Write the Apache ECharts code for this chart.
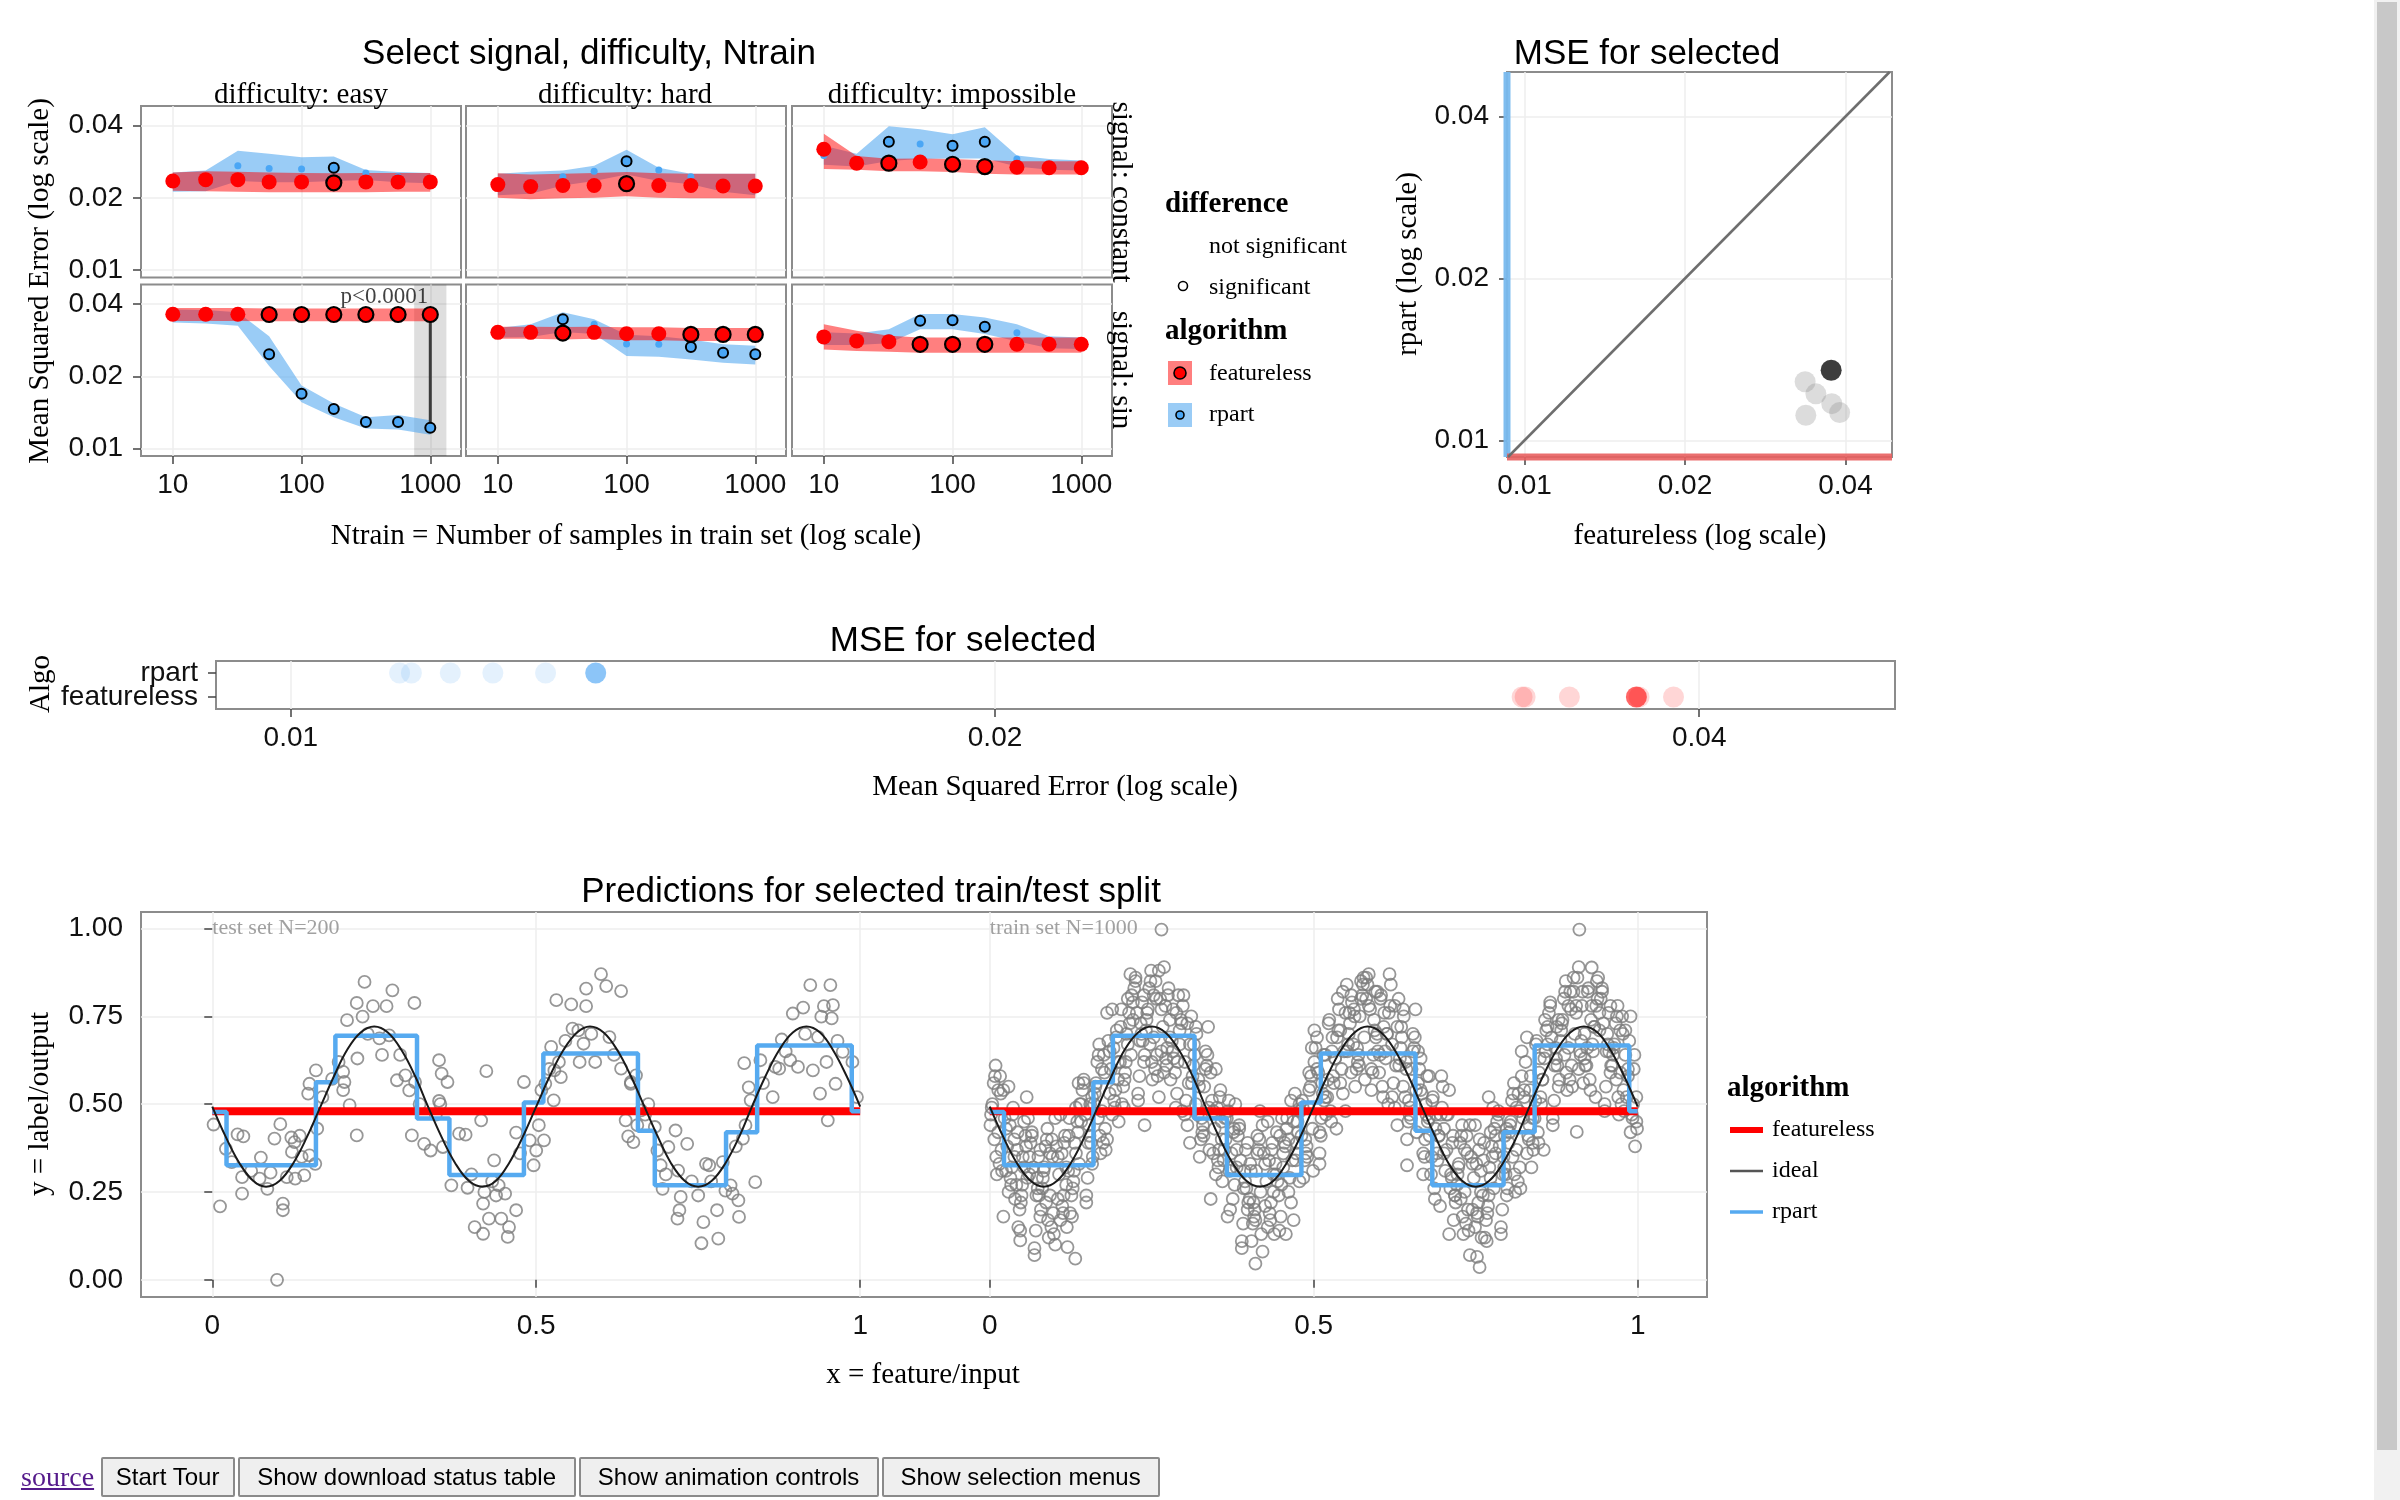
<!DOCTYPE html>
<html>
<head>
<meta charset="utf-8">
<title>MSE dashboard</title>
<script src="https://cdn.jsdelivr.net/npm/echarts@6/dist/echarts.min.js"></script>
<style>
  html, body { margin:0; padding:0; background:#fff; width:2400px; height:1500px; overflow:hidden; }
  #chart { position:absolute; left:0; top:0; width:2400px; height:1500px; }
  #controls { position:absolute; left:21px; top:1457px; height:40px; display:flex; align-items:stretch; }
  #controls a { font: 28px 'Liberation Serif', serif; color:#551a8b; text-decoration:underline; align-self:center; margin-right:5px; }
  #controls button { font: 24px 'Liberation Sans', Arial, sans-serif; color:#000; background:#efefef; border:2px solid #8a8a8a; border-radius:2px; height:40px; padding:0; margin:0 1.5px; }
  #scroll { position:absolute; left:2374px; top:0; width:26px; height:1500px; background:#f1f1f1; }
  #thumb { position:absolute; left:3px; top:2px; width:20px; height:1448px; background:#c8c8c8; }
</style>
</head>
<body>
<div id="chart"></div>
<div id="controls"><a href="#">source</a><button style="width:134px">Start Tour</button><button style="width:338px">Show download status table</button><button style="width:300px">Show animation controls</button><button style="width:278px">Show selection menus</button></div>
<div id="scroll"><div id="thumb"></div></div>
<script>
// ================= DATA =================
const NTRAIN = [10, 18, 32, 56, 100, 178, 316, 562, 1000];
const NTRAIN_TICKS = [10, 100, 1000];
const MSE_TICKS = [0.01, 0.02, 0.04];
const SIGNALS = ['constant', 'sin'];
const DIFFICULTIES = ['easy', 'hard', 'impossible'];

// signal: constant, difficulty: easy
const constEasyFeatMean  = [0.0235,0.0238,0.0238,0.0233,0.0233,0.0231,0.0233,0.0233,0.0233];
const constEasyFeatLo    = [0.0214,0.0213,0.0212,0.0211,0.0211,0.0211,0.0211,0.0212,0.0212];
const constEasyFeatHi    = [0.0255,0.0258,0.0257,0.0255,0.0254,0.0253,0.0254,0.0254,0.0254];
const constEasyRpartMean = [0.0236,0.0242,0.0272,0.0265,0.0264,0.0267,0.0254,0.0245,0.0240];
const constEasyRpartLo   = [0.0212,0.0213,0.0235,0.0232,0.0232,0.0235,0.0237,0.0232,0.0230];
const constEasyRpartHi   = [0.0255,0.0260,0.0314,0.0305,0.0295,0.0297,0.0261,0.0256,0.0254];
const constEasySig       = [0,0,0,0,0,1,0,0,0];
// signal: constant, difficulty: hard
const constHardFeatMean  = [0.0227,0.0223,0.0225,0.0225,0.0229,0.0225,0.0225,0.0224,0.0224];
const constHardFeatLo    = [0.0200,0.0197,0.0199,0.0200,0.0203,0.0200,0.0199,0.0199,0.0199];
const constHardFeatHi    = [0.0253,0.0250,0.0252,0.0254,0.0256,0.0253,0.0252,0.0252,0.0252];
const constHardRpartMean = [0.0228,0.0232,0.0245,0.0258,0.0284,0.0261,0.0245,0.0232,0.0228];
const constHardRpartLo   = [0.0205,0.0208,0.0225,0.0235,0.0250,0.0235,0.0228,0.0212,0.0205];
const constHardRpartHi   = [0.0252,0.0257,0.0260,0.0272,0.0317,0.0267,0.0252,0.0252,0.0252];
const constHardSig       = [0,0,0,0,1,0,0,0,0];
// signal: constant, difficulty: impossible
const constImpFeatMean   = [0.0319,0.0279,0.0279,0.0282,0.0276,0.0270,0.0268,0.0267,0.0267];
const constImpFeatLo     = [0.0264,0.0262,0.0258,0.0258,0.0256,0.0252,0.0250,0.0250,0.0250];
const constImpFeatHi     = [0.0370,0.0299,0.0291,0.0292,0.0290,0.0287,0.0284,0.0284,0.0284];
const constImpRpartMean  = [0.0300,0.0283,0.0343,0.0335,0.0330,0.0343,0.0290,0.0275,0.0272];
const constImpRpartLo    = [0.0275,0.0270,0.0285,0.0290,0.0292,0.0292,0.0270,0.0262,0.0260];
const constImpRpartHi    = [0.0330,0.0305,0.0398,0.0386,0.0368,0.0394,0.0300,0.0290,0.0286];
const constImpSig        = [0,0,1,0,1,1,0,0,0];
// signal: sin, difficulty: easy
const sinEasyFeatMean    = [0.0363,0.0363,0.0363,0.0362,0.0362,0.0362,0.0362,0.0362,0.0362];
const sinEasyFeatLo      = [0.0340,0.0340,0.0340,0.0339,0.0339,0.0339,0.0339,0.0339,0.0339];
const sinEasyFeatHi      = [0.0385,0.0385,0.0385,0.0384,0.0384,0.0384,0.0384,0.0384,0.0384];
const sinEasyRpartMean   = [0.0362,0.0360,0.0352,0.0247,0.0169,0.0146,0.0129,0.0129,0.0122];
const sinEasyRpartLo     = [0.0335,0.0332,0.0325,0.0221,0.0156,0.0135,0.0121,0.0120,0.0114];
const sinEasyRpartHi     = [0.0380,0.0378,0.0370,0.0294,0.0183,0.0154,0.0135,0.0138,0.0131];
const sinEasySig         = [0,0,0,1,1,1,1,1,1];
// signal: sin, difficulty: hard
const sinHardFeatMean    = [0.0305,0.0305,0.0303,0.0305,0.0301,0.0301,0.0299,0.0299,0.0299];
const sinHardFeatLo      = [0.0287,0.0287,0.0285,0.0287,0.0283,0.0283,0.0281,0.0281,0.0281];
const sinHardFeatHi      = [0.0322,0.0322,0.0321,0.0322,0.0320,0.0320,0.0318,0.0318,0.0318];
const sinHardRpartMean   = [0.0305,0.0310,0.0346,0.0330,0.0273,0.0272,0.0265,0.0251,0.0247];
const sinHardRpartLo     = [0.0290,0.0292,0.0306,0.0300,0.0243,0.0241,0.0235,0.0228,0.0224];
const sinHardRpartHi     = [0.0318,0.0330,0.0370,0.0346,0.0298,0.0294,0.0285,0.0272,0.0268];
const sinHardSig         = [0,0,1,0,0,0,1,1,1];
// signal: sin, difficulty: impossible
const sinImpFeatMean     = [0.0292,0.0281,0.0279,0.0272,0.0272,0.0272,0.0272,0.0272,0.0272];
const sinImpFeatLo       = [0.0259,0.0255,0.0253,0.0251,0.0251,0.0251,0.0251,0.0251,0.0251];
const sinImpFeatHi       = [0.0330,0.0310,0.0295,0.0290,0.0290,0.0290,0.0290,0.0290,0.0290];
const sinImpRpartMean    = [0.0292,0.0285,0.0290,0.0341,0.0343,0.0322,0.0304,0.0280,0.0275];
const sinImpRpartLo      = [0.0270,0.0270,0.0275,0.0314,0.0314,0.0300,0.0280,0.0262,0.0260];
const sinImpRpartHi      = [0.0305,0.0302,0.0314,0.0364,0.0364,0.0352,0.0330,0.0294,0.0290];
const sinImpSig          = [0,0,0,1,1,1,0,0,0];

const SELECTED_SIGNAL = 'sin', SELECTED_DIFFICULTY = 'easy', SELECTED_NTRAIN = 1000;
const SELECTED_PVALUE = 'p<0.0001';

// MSE per test fold for the selected (signal, difficulty, Ntrain)
const foldFeaturelessMSE = [0.0376, 0.0336, 0.0352, 0.0377, 0.0390, 0.0337];
const foldRpartMSE       = [0.0135, 0.01285, 0.0122, 0.0117, 0.01126, 0.01113];
const SELECTED_FOLD = 0;

// predictions for the selected split
const featurelessPrediction = 0.48;
const rpartStepX = [0, 0.022, 0.160, 0.190, 0.316, 0.366, 0.481, 0.511, 0.657, 0.683, 0.793, 0.841, 0.987, 1.0];
const rpartStepY = [0.478, 0.326, 0.562, 0.695, 0.459, 0.298, 0.505, 0.644, 0.424, 0.269, 0.420, 0.667, 0.48, 0.48];
const idealX = [0,.021,.042,.063,.083,.104,.125,.146,.167,.188,.208,.229,.25,.271,.292,.313,.333,.354,.375,.396,.417,.438,.458,.479,.5,.521,.542,.563,.583,.604,.625,.646,.667,.688,.708,.729,.75,.771,.792,.813,.833,.854,.875,.896,.917,.938,.958,.979,1];
const idealY = [.493,.406,.332,.282,.265,.282,.332,.406,.493,.580,.654,.704,.721,.704,.654,.580,
                .493,.406,.332,.282,.265,.282,.332,.406,.493,.580,.654,.704,.721,.704,.654,.580,
                .493,.406,.332,.282,.265,.282,.332,.406,.493,.580,.654,.704,.721,.704,.654,.580,.493];
const PRED_X_TICKS = [0, 0.5, 1, 1.2, 1.7, 2.2];
const PRED_X_LABELS = ['0', '0.5', '1', '0', '0.5', '1'];
const PRED_Y_TICKS = [0, 0.25, 0.5, 0.75, 1];
const TRAIN_OFFSET = 1.2;

// test set points (x, y pairs)
const testPts = [
.002,.442,.012,.209,.021,.373,.039,.414,.048,.408,.046,.245,.046,.292,.075,.348,.073,.288,.085,.259,.096,.402,.105,.443,.100,.000,.109,.217,.109,.198,.115,.292,.122,.405,.127,.392,.123,.364,.128,.288,
.138,.350,.142,.297,.148,.530,.150,.558,.160,.596,.162,.430,.159,.330,.150,.354,.185,.572,.202,.592,.204,.563,.202,.540,.212,.497,.208,.739,.223,.788,.235,.848,.232,.749,.223,.411,.224,.630,.248,.779,
.258,.687,.269,.779,.278,.824,.273,.696,.312,.788,.285,.568,.298,.582,.304,.539,.308,.411,.313,.563,.327,.387,.337,.368,.350,.625,.354,.587,.363,.563,.350,.509,.352,.500,.356,.378,.369,.269,.381,.416,
.391,.413,.394,.262,.405,.150,.415,.454,.418,.131,.423,.594,.418,.217,.420,.250,.427,.174,.435,.340,.438,.240,.442,.269,.446,.174,.452,.245,.456,.122,.458,.150,.469,.198,.469,.419,.481,.563,.490,.397,
.496,.326,.500,.368,.504,.440,.508,.540,.512,.397,.514,.558,.527,.511,.528,.596,.531,.796,.523,.663,.535,.620,.538,.577,.554,.784,.577,.779,.577,.829,.556,.715,.565,.710,.567,.620,.573,.672,.591,.620,
.600,.870,.608,.836,.631,.822,.613,.691,.631,.601,.638,.454,.642,.408,.650,.392,.646,.563,.654,.582,.646,.558,.662,.482,.673,.500,.656,.440,.683,.435,.687,.368,.692,.326,.695,.259,.704,.378,.715,.425,
.719,.311,.723,.236,.721,.198,.718,.174,.733,.387,.750,.240,.755,.104,.758,.164,.762,.330,.767,.326,.779,.198,.781,.117,.788,.335,.792,.254,.800,.269,.803,.245,.812,.226,.813,.179,.819,.402,.823,.440,
.821,.617,.828,.548,.831,.511,.838,.278,.846,.625,.865,.520,.869,.606,.875,.601,.879,.684,.892,.625,.896,.758,.912,.775,.904,.606,.923,.839,.927,.596,.935,.691,.938,.530,.940,.749,.944,.779,.948,.620,
.950,.454,.954,.839,.958,.782,.956,.744,.962,.558,.973,.649,.988,.620,.030,.335,.060,.310,.090,.305,.135,.410,.170,.520,.195,.620,.240,.700,.262,.640,.290,.640,.320,.500,.345,.470,.400,.300,.432,.280,
.475,.360,.520,.600,.545,.680,.585,.700,.620,.640,.668,.470,.700,.300,.740,.280,.770,.280,.808,.380,.850,.560,.885,.650,.915,.700,.965,.680,.995,.520
];

// train set points (x, y pairs)
const trainPts = [
.002,.47,.018,.37,.006,.56,.013,.42,.009,.61,.015,.33,.004,.50,.011,.30,.017,.53,.001,.44,.008,.58,
.034,.32,.023,.46,.039,.23,.027,.38,.031,.44,.021,.18,.036,.49,.025,.31,.029,.55,.033,.27,.038,.40,
.042,.37,.058,.29,.046,.20,.053,.45,.049,.24,.055,.41,.044,.15,.051,.35,.057,.52,.041,.27,.048,.22,
.074,.26,.063,.39,.079,.20,.067,.32,.071,.14,.061,.35,.076,.24,.065,.42,.069,.09,.073,.29,.078,.37,
.082,.29,.098,.19,.086,.38,.093,.24,.089,.43,.095,.15,.084,.32,.091,.12,.097,.35,.081,.26,.088,.40,
.114,.24,.103,.38,.119,.15,.107,.30,.111,.36,.101,.10,.116,.41,.105,.23,.109,.47,.113,.19,.118,.32,
.122,.41,.138,.33,.126,.24,.133,.49,.129,.28,.135,.45,.124,.19,.131,.39,.137,.56,.121,.31,.128,.26,
.154,.41,.143,.54,.159,.35,.147,.47,.151,.29,.141,.50,.156,.39,.145,.57,.149,.24,.153,.44,.158,.52,
.162,.53,.178,.43,.166,.62,.173,.48,.169,.67,.175,.39,.164,.56,.171,.36,.177,.59,.161,.50,.168,.64,
.194,.54,.183,.68,.199,.45,.187,.60,.191,.66,.181,.40,.196,.71,.185,.53,.189,.77,.193,.49,.198,.62,
.202,.72,.218,.64,.206,.55,.213,.80,.209,.59,.215,.76,.204,.50,.211,.70,.217,.87,.201,.62,.208,.57,
.234,.70,.223,.83,.239,.64,.227,.76,.231,.58,.221,.79,.236,.68,.225,.86,.229,.53,.233,.73,.238,.81,
.242,.74,.258,.64,.246,.83,.253,.69,.249,.88,.255,.60,.244,.77,.251,.57,.257,.80,.241,.71,.248,.85,
.274,.66,.263,.80,.279,.57,.267,.72,.271,.78,.261,.52,.276,.83,.265,.65,.269,.89,.273,.61,.278,.74,
.282,.65,.298,.78,.286,.59,.293,.71,.289,.53,.295,.74,.284,.63,.291,.81,.297,.48,.281,.68,.288,.76,
.314,.61,.303,.51,.319,.70,.307,.56,.311,.75,.301,.47,.316,.64,.305,.44,.309,.67,.313,.58,.318,.72,
.322,.57,.338,.49,.326,.40,.333,.65,.329,.44,.335,.61,.324,.35,.331,.55,.337,.72,.321,.47,.328,.42,
.354,.37,.343,.51,.359,.28,.347,.43,.351,.49,.341,.23,.356,.54,.345,.36,.349,.60,.353,.32,.358,.45,
.362,.37,.378,.27,.366,.46,.373,.32,.369,.51,.375,.23,.364,.40,.371,.20,.377,.43,.361,.34,.368,.48,
.394,.28,.383,.41,.399,.22,.387,.34,.391,.16,.381,.37,.396,.26,.385,.44,.389,.11,.393,.31,.398,.39,
.402,.33,.418,.25,.406,.16,.413,.41,.409,.20,.415,.37,.404,.11,.411,.31,.417,.48,.401,.23,.408,.18,
.434,.22,.423,.36,.439,.13,.427,.28,.431,.34,.421,.08,.436,.39,.425,.21,.429,.45,.433,.17,.438,.30,
.442,.30,.458,.43,.446,.24,.453,.36,.449,.18,.455,.39,.444,.28,.451,.46,.457,.13,.441,.33,.448,.41,
.474,.39,.463,.29,.479,.48,.467,.34,.471,.53,.461,.25,.476,.42,.465,.22,.469,.45,.473,.36,.478,.50,
.482,.51,.498,.43,.486,.34,.493,.59,.489,.38,.495,.55,.484,.29,.491,.49,.497,.66,.481,.41,.488,.36,
.514,.53,.503,.66,.519,.47,.507,.59,.511,.41,.501,.62,.516,.51,.505,.69,.509,.36,.513,.56,.518,.64,
.522,.57,.538,.71,.526,.48,.533,.63,.529,.69,.535,.43,.524,.74,.531,.56,.537,.80,.521,.52,.528,.65,
.554,.70,.543,.60,.559,.79,.547,.65,.551,.84,.541,.56,.556,.73,.545,.53,.549,.76,.553,.67,.558,.81,
.562,.77,.578,.69,.566,.60,.573,.85,.569,.64,.575,.81,.564,.55,.571,.75,.577,.86,.561,.67,.568,.62,
.594,.71,.583,.84,.599,.65,.587,.77,.591,.59,.581,.80,.596,.69,.585,.87,.589,.54,.593,.74,.598,.82,
.602,.64,.618,.78,.606,.55,.613,.70,.609,.76,.615,.50,.604,.81,.611,.63,.617,.87,.601,.59,.608,.72,
.634,.66,.623,.56,.639,.75,.627,.61,.631,.80,.621,.52,.636,.69,.625,.49,.629,.72,.633,.63,.638,.77,
.642,.62,.658,.54,.646,.45,.653,.70,.649,.49,.655,.66,.644,.40,.651,.60,.657,.77,.641,.52,.648,.47,
.674,.47,.663,.60,.679,.41,.667,.53,.671,.35,.661,.56,.676,.45,.665,.63,.669,.30,.673,.50,.678,.58,
.682,.35,.698,.49,.686,.26,.693,.41,.689,.47,.695,.21,.684,.52,.691,.34,.697,.58,.681,.30,.688,.43,
.714,.39,.703,.31,.719,.22,.707,.47,.711,.26,.701,.43,.716,.17,.705,.37,.709,.54,.713,.29,.718,.24,
.722,.30,.738,.20,.726,.39,.733,.25,.729,.44,.735,.16,.724,.33,.731,.13,.737,.36,.721,.27,.728,.41,
.754,.22,.743,.35,.759,.12,.747,.29,.751,.33,.741,.07,.756,.40,.745,.20,.749,.44,.753,.18,.758,.31,
.762,.34,.778,.26,.766,.17,.773,.42,.769,.21,.775,.38,.764,.12,.771,.32,.777,.49,.761,.24,.768,.19,
.794,.32,.783,.45,.799,.26,.787,.38,.791,.20,.781,.41,.796,.30,.785,.48,.789,.15,.793,.35,.798,.43,
.802,.42,.818,.32,.806,.51,.813,.37,.809,.56,.815,.28,.804,.45,.811,.25,.817,.48,.801,.39,.808,.53,
.834,.54,.823,.46,.839,.37,.827,.62,.831,.41,.821,.58,.836,.32,.825,.52,.829,.69,.833,.44,.838,.39,
.842,.51,.858,.65,.846,.42,.853,.57,.849,.63,.855,.37,.844,.68,.851,.50,.857,.74,.841,.46,.848,.59,
.874,.63,.863,.76,.879,.57,.867,.69,.871,.51,.861,.72,.876,.61,.865,.79,.869,.46,.873,.66,.878,.74,
.882,.71,.898,.61,.886,.80,.893,.66,.889,.85,.895,.57,.884,.74,.891,.54,.897,.77,.881,.68,.888,.82,
.914,.78,.903,.70,.919,.61,.907,.86,.911,.65,.901,.82,.916,.56,.905,.76,.909,.89,.913,.68,.918,.63,
.922,.66,.938,.80,.926,.57,.933,.72,.929,.78,.935,.52,.924,.83,.931,.65,.937,.85,.921,.61,.928,.74,
.954,.67,.943,.80,.959,.61,.947,.73,.951,.55,.941,.76,.956,.65,.945,.83,.949,.50,.953,.70,.958,.78,
.962,.64,.978,.54,.966,.73,.973,.59,.969,.78,.975,.50,.964,.67,.971,.47,.977,.70,.961,.61,.968,.75,
.994,.60,.983,.52,.999,.43,.987,.68,.991,.47,.981,.64,.996,.38,.985,.58,.989,.75,.993,.50,.998,.45,
.265,.997,.910,.997,.929,.889,.047,.112,.132,.060,.120,.093,.410,.046,.756,.036,.752,.065,.906,.421,.770,.520,.239,.440,.509,.330,.644,.326,
.003,.49,.010,.35,.016,.58,.007,.40,.013,.54,.019,.31,.032,.29,.025,.43,.038,.35,.021,.54,.029,.25,.035,.47,
.043,.42,.050,.27,.056,.38,.047,.14,.053,.32,.059,.46,.072,.24,.065,.41,.078,.18,.061,.30,.069,.07,.075,.35,
.083,.31,.090,.17,.096,.40,.087,.22,.093,.36,.099,.13,.112,.21,.105,.35,.118,.27,.101,.46,.109,.17,.115,.39,
.123,.46,.130,.31,.136,.42,.127,.18,.133,.36,.139,.50,.152,.39,.145,.56,.158,.33,.141,.45,.149,.22,.155,.50,
.163,.55,.170,.41,.176,.64,.167,.46,.173,.60,.179,.37,.192,.51,.185,.65,.198,.57,.181,.76,.189,.47,.195,.69,
.203,.77,.210,.62,.216,.73,.207,.49,.213,.67,.219,.81,.232,.68,.225,.85,.238,.62,.221,.74,.229,.51,.235,.79,
.243,.76,.250,.62,.256,.85,.247,.67,.253,.81,.259,.58,.272,.63,.265,.77,.278,.69,.261,.88,.269,.59,.275,.81,
.283,.77,.290,.62,.296,.73,.287,.49,.293,.67,.299,.81,.312,.56,.305,.73,.318,.50,.301,.62,.309,.39,.315,.67,
.323,.55,.330,.41,.336,.64,.327,.46,.333,.60,.339,.37,.352,.34,.345,.48,.358,.40,.341,.59,.349,.30,.355,.52,
.363,.46,.370,.31,.376,.42,.367,.18,.373,.36,.379,.50,.392,.26,.385,.43,.398,.20,.381,.32,.389,.09,.395,.37,
.403,.31,.410,.17,.416,.40,.407,.22,.413,.36,.419,.13,.432,.19,.425,.33,.438,.25,.421,.44,.429,.15,.435,.37,
.443,.42,.450,.27,.456,.38,.447,.14,.453,.32,.459,.46,.472,.34,.465,.51,.478,.28,.461,.40,.469,.17,.475,.45,
.483,.49,.490,.35,.496,.58,.487,.40,.493,.54,.499,.31,.512,.46,.505,.60,.518,.52,.501,.71,.509,.42,.515,.64,
.523,.73,.530,.58,.536,.69,.527,.45,.533,.63,.539,.77,.552,.65,.545,.82,.558,.59,.541,.71,.549,.48,.555,.76,
.563,.75,.570,.61,.576,.84,.567,.66,.573,.80,.579,.57,.592,.64,.585,.78,.598,.70,.581,.86,.589,.60,.595,.82,
.603,.80,.610,.65,.616,.76,.607,.52,.613,.70,.619,.84,.632,.61,.625,.78,.638,.55,.621,.67,.629,.44,.635,.72,
.643,.60,.650,.46,.656,.69,.647,.51,.653,.65,.659,.42,.672,.40,.665,.54,.678,.46,.661,.65,.669,.36,.675,.58,
.683,.51,.690,.36,.696,.47,.687,.23,.693,.41,.699,.55,.712,.30,.705,.47,.718,.24,.701,.36,.709,.13,.715,.41,
.723,.32,.730,.18,.736,.41,.727,.23,.733,.37,.739,.14,.752,.19,.745,.33,.758,.25,.741,.44,.749,.15,.755,.37,
.763,.39,.770,.24,.776,.35,.767,.11,.773,.29,.779,.43,.792,.30,.785,.47,.798,.24,.781,.36,.789,.13,.795,.41,
.803,.44,.810,.30,.816,.53,.807,.35,.813,.49,.819,.26,.832,.40,.825,.54,.838,.46,.821,.65,.829,.36,.835,.58,
.843,.67,.850,.52,.856,.63,.847,.39,.853,.57,.859,.71,.872,.61,.865,.78,.878,.55,.861,.67,.869,.44,.875,.72,
.883,.73,.890,.59,.896,.82,.887,.64,.893,.78,.899,.55,.912,.64,.905,.78,.918,.70,.901,.86,.909,.60,.915,.82,
.923,.82,.930,.67,.936,.78,.927,.54,.933,.72,.939,.86,.952,.65,.945,.82,.958,.59,.941,.71,.949,.48,.955,.76,
.963,.66,.970,.52,.976,.75,.967,.57,.973,.71,.979,.48,.992,.46,.985,.60,.998,.52,.981,.71,.989,.42,.995,.64
];

// ================= STYLE / LAYOUT =================
const SANS = "'Liberation Sans', Arial, sans-serif";
const SERIF = "'Liberation Serif', 'Times New Roman', serif";
const RED = '#ff0000';
const BLUE = '#56aaf0';
const BLUE_PT = '#4aa6f5';
const RED_BAND = 'rgba(255,0,0,0.5)';
const BLUE_BAND = 'rgba(86,170,240,0.6)';
const BORDER = '#8c8c8c', SPLIT = '#eeeeee', TICK = '#444';

const FACET_LEFT = [141, 466, 792], FACET_TOP = [106, 284.5], FACET_W = 320, FACET_H = 171.5;
const FX_MIN = 5.66, FX_MAX = 1732, FY_MIN = 0.0093, FY_MAX = 0.0483;
const SC_X_MIN = 0.00927, SC_X_MAX = 0.0489, SC_Y_MIN = 0.00931, SC_Y_MAX = 0.0484;
const ST_X_MIN = 0.00929, ST_X_MAX = 0.0485;
const PR_X_MIN = -0.11, PR_X_MAX = 2.307, PR_Y_MIN = -0.049, PR_Y_MAX = 1.047;

const PANELS = [
  {signal:'constant', difficulty:'easy', fm:constEasyFeatMean, flo:constEasyFeatLo, fhi:constEasyFeatHi, rm:constEasyRpartMean, rlo:constEasyRpartLo, rhi:constEasyRpartHi, sig:constEasySig},
  {signal:'constant', difficulty:'hard', fm:constHardFeatMean, flo:constHardFeatLo, fhi:constHardFeatHi, rm:constHardRpartMean, rlo:constHardRpartLo, rhi:constHardRpartHi, sig:constHardSig},
  {signal:'constant', difficulty:'impossible', fm:constImpFeatMean, flo:constImpFeatLo, fhi:constImpFeatHi, rm:constImpRpartMean, rlo:constImpRpartLo, rhi:constImpRpartHi, sig:constImpSig},
  {signal:'sin', difficulty:'easy', fm:sinEasyFeatMean, flo:sinEasyFeatLo, fhi:sinEasyFeatHi, rm:sinEasyRpartMean, rlo:sinEasyRpartLo, rhi:sinEasyRpartHi, sig:sinEasySig},
  {signal:'sin', difficulty:'hard', fm:sinHardFeatMean, flo:sinHardFeatLo, fhi:sinHardFeatHi, rm:sinHardRpartMean, rlo:sinHardRpartLo, rhi:sinHardRpartHi, sig:sinHardSig},
  {signal:'sin', difficulty:'impossible', fm:sinImpFeatMean, flo:sinImpFeatLo, fhi:sinImpFeatHi, rm:sinImpRpartMean, rlo:sinImpRpartLo, rhi:sinImpRpartHi, sig:sinImpSig}
];

function tickOpt(show, custom) {
  return {show, customValues: custom, length: 8, inside: false, lineStyle: {color: TICK, width: 1.5}};
}
function labelOpt(show, custom, fmt, margin, size) {
  return {show, customValues: custom, formatter: fmt, margin, fontSize: size || 28, fontFamily: SANS, color: '#111'};
}
const splitOpt = {show: true, lineStyle: {color: SPLIT, width: 1.5}};
const fmtN = v => String(Math.round(v));
const fmtMSE = v => v.toFixed(2);

const grids = [], xAxes = [], yAxes = [], series = [];

function bandSeries(gi, lo, hi, color, z) {
  return {
    type: 'custom', xAxisIndex: gi, yAxisIndex: gi, z, silent: true, clip: true,
    data: [[NTRAIN[0], lo[0]]],
    renderItem: (params, api) => {
      const pts = [];
      for (let i = 0; i < NTRAIN.length; i++) pts.push(api.coord([NTRAIN[i], hi[i]]));
      for (let i = NTRAIN.length - 1; i >= 0; i--) pts.push(api.coord([NTRAIN[i], lo[i]]));
      return {type: 'polygon', shape: {points: pts}, style: {fill: color}};
    }
  };
}
function pointSeries(gi, means, sig, wantSig, size, color, z, border) {
  const data = [];
  NTRAIN.forEach((n, i) => { if ((sig[i] === 1) === wantSig) data.push([n, means[i]]); });
  const itemStyle = {color, opacity: 1};
  if (wantSig) { itemStyle.borderColor = '#000'; itemStyle.borderWidth = border; }
  return {type: 'scatter', xAxisIndex: gi, yAxisIndex: gi, data, symbolSize: size, itemStyle, z, silent: true};
}

// ---- facet panels ----
PANELS.forEach(p => {
  const r = SIGNALS.indexOf(p.signal), c = DIFFICULTIES.indexOf(p.difficulty);
  const g = r * 3 + c;
  grids[g] = {left: FACET_LEFT[c], top: FACET_TOP[r], width: FACET_W, height: FACET_H, show: true,
              borderColor: BORDER, borderWidth: 2, backgroundColor: 'rgba(0,0,0,0)'};
  xAxes[g] = {type: 'log', logBase: 10, gridIndex: g, min: FX_MIN, max: FX_MAX, axisLine: {show: false},
              axisTick: tickOpt(r === 1, NTRAIN_TICKS), axisLabel: labelOpt(r === 1, NTRAIN_TICKS, fmtN, 15), splitLine: splitOpt};
  yAxes[g] = {type: 'log', logBase: 2, gridIndex: g, min: FY_MIN, max: FY_MAX, axisLine: {show: false},
              axisTick: tickOpt(c === 0, MSE_TICKS), axisLabel: labelOpt(c === 0, MSE_TICKS, fmtMSE, 18), splitLine: splitOpt};
  const selected = p.signal === SELECTED_SIGNAL && p.difficulty === SELECTED_DIFFICULTY;
  if (selected) {
    const k = NTRAIN.indexOf(SELECTED_NTRAIN);
    const lo = Math.sqrt(NTRAIN[k - 1] * NTRAIN[k]);
    const hi = NTRAIN[k] * NTRAIN[k] / lo;
    series.push({type: 'custom', xAxisIndex: g, yAxisIndex: g, z: 1, silent: true, clip: true,
      data: [[SELECTED_NTRAIN, p.fm[k]]],
      renderItem: (params, api) => {
        const a = api.coord([lo, FY_MAX]), b = api.coord([hi, FY_MIN]);
        return {type: 'rect', shape: {x: a[0], y: a[1], width: b[0] - a[0], height: b[1] - a[1]}, style: {fill: 'rgba(0,0,0,0.13)'}};
      }});
  }
  series.push(bandSeries(g, p.rlo, p.rhi, BLUE_BAND, 2));
  series.push(bandSeries(g, p.flo, p.fhi, RED_BAND, 3));
  if (selected) {
    const k = NTRAIN.indexOf(SELECTED_NTRAIN);
    series.push({type: 'line', xAxisIndex: g, yAxisIndex: g, z: 4, silent: true, symbol: 'none',
      data: [[SELECTED_NTRAIN, p.fm[k]], [SELECTED_NTRAIN, p.rm[k]]], lineStyle: {color: '#3a3a3a', width: 3}});
    series.push({type: 'scatter', xAxisIndex: g, yAxisIndex: g, z: 8, silent: true, symbolSize: 0,
      data: [[SELECTED_NTRAIN, 0.0429]],
      label: {show: true, position: 'left', distance: 2, formatter: SELECTED_PVALUE, fontFamily: SERIF, fontSize: 23, color: '#111'}});
  }
  series.push(pointSeries(g, p.rm, p.sig, false, 7, BLUE_PT, 5));
  series.push(pointSeries(g, p.rm, p.sig, true, 10, BLUE_PT, 5, 2));
  series.push(pointSeries(g, p.fm, p.sig, false, 15, RED, 6));
  series.push(pointSeries(g, p.fm, p.sig, true, 15, RED, 6, 2.2));
});

// ---- scatter: featureless vs rpart ----
grids[6] = {left: 1507, top: 72, width: 385, height: 385, show: true, borderColor: BORDER, borderWidth: 2, backgroundColor: 'rgba(0,0,0,0)'};
xAxes[6] = {type: 'log', logBase: 2, gridIndex: 6, min: SC_X_MIN, max: SC_X_MAX, axisLine: {show: false},
            axisTick: tickOpt(true, MSE_TICKS), axisLabel: labelOpt(true, MSE_TICKS, fmtMSE, 15), splitLine: splitOpt};
yAxes[6] = {type: 'log', logBase: 2, gridIndex: 6, min: SC_Y_MIN, max: SC_Y_MAX, axisLine: {show: false},
            axisTick: tickOpt(true, MSE_TICKS), axisLabel: labelOpt(true, MSE_TICKS, fmtMSE, 18), splitLine: splitOpt};
series.push({type: 'line', xAxisIndex: 6, yAxisIndex: 6, z: 3, silent: true, symbol: 'none', clip: false,
  data: [[SC_X_MIN, SC_Y_MIN], [SC_X_MIN, SC_Y_MAX]], lineStyle: {color: 'rgba(120,185,238,0.95)', width: 7}});
series.push({type: 'line', xAxisIndex: 6, yAxisIndex: 6, z: 3, silent: true, symbol: 'none', clip: false,
  data: [[SC_X_MIN, SC_Y_MIN], [SC_X_MAX, SC_Y_MIN]], lineStyle: {color: 'rgba(232,95,95,0.9)', width: 7}});
series.push({type: 'line', xAxisIndex: 6, yAxisIndex: 6, z: 4, silent: true, symbol: 'none',
  data: [[SC_Y_MIN, SC_Y_MIN], [SC_Y_MAX, SC_Y_MAX]], lineStyle: {color: '#6e6e6e', width: 2.5}});
series.push({type: 'scatter', xAxisIndex: 6, yAxisIndex: 6, z: 5, silent: true, symbolSize: 21,
  data: foldFeaturelessMSE.map((f, i) => ({value: [f, foldRpartMSE[i]],
    itemStyle: i === SELECTED_FOLD ? {color: '#333', opacity: 0.95} : {color: 'rgba(140,140,140,0.38)'}}))});

// ---- strip: MSE per algorithm ----
grids[7] = {left: 216, top: 661, width: 1679, height: 48, show: true, borderColor: BORDER, borderWidth: 2, backgroundColor: 'rgba(0,0,0,0)'};
xAxes[7] = {type: 'log', logBase: 2, gridIndex: 7, min: ST_X_MIN, max: ST_X_MAX, axisLine: {show: false},
            axisTick: tickOpt(true, MSE_TICKS), axisLabel: labelOpt(true, MSE_TICKS, fmtMSE, 15), splitLine: splitOpt};
yAxes[7] = {type: 'category', gridIndex: 7, data: ['featureless', 'rpart'], axisLine: {show: false},
            axisTick: {show: true, length: 8, alignWithLabel: true, interval: 0, lineStyle: {color: TICK, width: 1.5}},
            axisLabel: {fontSize: 28, fontFamily: SANS, color: '#111', margin: 18, interval: 0, hideOverlap: false}, splitLine: {show: false}};
series.push({type: 'scatter', xAxisIndex: 7, yAxisIndex: 7, z: 5, silent: true, symbolSize: 21,
  data: foldRpartMSE.map((v, i) => ({value: [v, 'rpart'],
    itemStyle: i === SELECTED_FOLD ? {color: 'rgba(86,170,245,0.85)'} : {color: 'rgba(86,170,245,0.2)'}}))});
series.push({type: 'scatter', xAxisIndex: 7, yAxisIndex: 7, z: 5, silent: true, symbolSize: 21,
  data: foldFeaturelessMSE.map((v, i) => ({value: [v, 'featureless'],
    itemStyle: i === SELECTED_FOLD ? {color: 'rgba(255,0,0,0.75)'} : {color: 'rgba(255,0,0,0.2)'}}))});

// ---- predictions ----
grids[8] = {left: 141, top: 912, width: 1566, height: 385, show: true, borderColor: BORDER, borderWidth: 2, backgroundColor: 'rgba(0,0,0,0)'};
const fmtPredX = v => { const i = PRED_X_TICKS.findIndex(t => Math.abs(t - v) < 1e-6); return i >= 0 ? PRED_X_LABELS[i] : ''; };
xAxes[8] = {type: 'value', gridIndex: 8, min: PR_X_MIN, max: PR_X_MAX, axisLine: {show: false},
            axisTick: tickOpt(true, PRED_X_TICKS), axisLabel: labelOpt(true, PRED_X_TICKS, fmtPredX, 15), splitLine: splitOpt};
yAxes[8] = {type: 'value', gridIndex: 8, min: PR_Y_MIN, max: PR_Y_MAX, axisLine: {show: false},
            axisTick: tickOpt(true, PRED_Y_TICKS), axisLabel: labelOpt(true, PRED_Y_TICKS, v => v.toFixed(2), 18), splitLine: splitOpt};

const testData = [], trainData = [];
for (let i = 0; i < testPts.length; i += 2) testData.push([testPts[i], testPts[i + 1]]);
for (let i = 0; i < trainPts.length; i += 2) trainData.push([trainPts[i] + TRAIN_OFFSET, trainPts[i + 1]]);
const hollow = {color: 'rgba(0,0,0,0)', borderColor: '#7d7d7d', borderWidth: 1.8};
series.push({type: 'scatter', xAxisIndex: 8, yAxisIndex: 8, z: 2, silent: true, symbolSize: 12, data: testData, itemStyle: hollow});
series.push({type: 'scatter', xAxisIndex: 8, yAxisIndex: 8, z: 2, silent: true, symbolSize: 12, data: trainData, itemStyle: hollow, large: false, progressive: 0});

[0, TRAIN_OFFSET].forEach(off => {
  series.push({type: 'line', xAxisIndex: 8, yAxisIndex: 8, z: 3, silent: true, symbol: 'none',
    data: [[0 + off, featurelessPrediction], [1 + off, featurelessPrediction]], lineStyle: {color: RED, width: 8}});
  series.push({type: 'line', xAxisIndex: 8, yAxisIndex: 8, z: 4, silent: true, symbol: 'none', step: 'end',
    data: rpartStepX.map((x, i) => [x + off, rpartStepY[i]]), lineStyle: {color: BLUE, width: 4.5}});
  series.push({type: 'line', xAxisIndex: 8, yAxisIndex: 8, z: 5, silent: true, symbol: 'none', smooth: 0.4,
    data: idealX.map((x, i) => [x + off, idealY[i]]), lineStyle: {color: '#1a1a1a', width: 2}});
});
series.push({type: 'scatter', xAxisIndex: 8, yAxisIndex: 8, z: 6, silent: true, symbolSize: 0,
  data: [{value: [0, 1.0], name: 'test set N=200'}, {value: [TRAIN_OFFSET, 1.0], name: 'train set N=1000'}],
  label: {show: true, position: 'right', distance: 0, formatter: '{b}', fontFamily: SERIF, fontSize: 22, color: '#8a8a8a'}});

// ================= TEXT / LEGENDS =================
const G = [];
function T(x, y, text, size, family, o) {
  o = o || {};
  const al = o.align || 'center';
  G.push({type: 'text', x, y, rotation: o.rot || 0, silent: true, z: 100,
    style: {text, x: 0, y: 0, fill: o.color || '#000', font: (o.weight ? o.weight + ' ' : '') + size + 'px ' + family,
            align: al, verticalAlign: 'middle', textAlign: al, textVerticalAlign: 'middle'}});
}
T(589, 54, 'Select signal, difficulty, Ntrain', 35, SANS);
T(301, 95, 'difficulty: easy', 29, SERIF);
T(625, 95, 'difficulty: hard', 29, SERIF);
T(952, 95, 'difficulty: impossible', 29, SERIF);
T(1121, 192, 'signal: constant', 29, SERIF, {rot: -Math.PI / 2});
T(1121, 370, 'signal: sin', 29, SERIF, {rot: -Math.PI / 2});
T(40, 281, 'Mean Squared Error (log scale)', 29, SERIF, {rot: Math.PI / 2});
T(626, 536, 'Ntrain = Number of samples in train set (log scale)', 29, SERIF);

T(1165, 205, 'difference', 29, SERIF, {weight: 'bold', align: 'left'});
T(1209, 247, 'not significant', 24, SERIF, {align: 'left'});
T(1209, 288, 'significant', 24, SERIF, {align: 'left'});
G.push({type: 'circle', silent: true, z: 100, shape: {cx: 1183, cy: 286, r: 4.5}, style: {fill: 'none', stroke: '#000', lineWidth: 1.6}});
T(1165, 332, 'algorithm', 29, SERIF, {weight: 'bold', align: 'left'});
G.push({type: 'rect', silent: true, z: 100, shape: {x: 1168, y: 361, width: 24, height: 24}, style: {fill: RED_BAND}});
G.push({type: 'circle', silent: true, z: 101, shape: {cx: 1180, cy: 373, r: 6}, style: {fill: RED, stroke: '#000', lineWidth: 1.6}});
T(1209, 374, 'featureless', 24, SERIF, {align: 'left'});
G.push({type: 'rect', silent: true, z: 100, shape: {x: 1168, y: 403, width: 24, height: 24}, style: {fill: BLUE_BAND}});
G.push({type: 'circle', silent: true, z: 101, shape: {cx: 1180, cy: 415, r: 4}, style: {fill: BLUE_PT, stroke: '#000', lineWidth: 1.6}});
T(1209, 415, 'rpart', 24, SERIF, {align: 'left'});

T(1647, 54, 'MSE for selected', 35, SANS);
T(1408, 264, 'rpart (log scale)', 29, SERIF, {rot: Math.PI / 2});
T(1700, 536, 'featureless (log scale)', 29, SERIF);

T(963, 641, 'MSE for selected', 35, SANS);
T(41, 684, 'Algo', 29, SERIF, {rot: Math.PI / 2});
T(1055, 787, 'Mean Squared Error (log scale)', 29, SERIF);

T(871, 892, 'Predictions for selected train/test split', 35, SANS);
T(40, 1104, 'y = label/output', 29, SERIF, {rot: Math.PI / 2});
T(923, 1375, 'x = feature/input', 29, SERIF);
T(1727, 1089, 'algorithm', 29, SERIF, {weight: 'bold', align: 'left'});
G.push({type: 'line', silent: true, z: 100, shape: {x1: 1730, y1: 1130, x2: 1763, y2: 1130}, style: {stroke: RED, lineWidth: 6}});
G.push({type: 'line', silent: true, z: 100, shape: {x1: 1730, y1: 1171, x2: 1763, y2: 1171}, style: {stroke: '#555', lineWidth: 2.5}});
G.push({type: 'line', silent: true, z: 100, shape: {x1: 1730, y1: 1212, x2: 1763, y2: 1212}, style: {stroke: BLUE, lineWidth: 3.5}});
T(1772, 1130, 'featureless', 24, SERIF, {align: 'left'});
T(1772, 1171, 'ideal', 24, SERIF, {align: 'left'});
T(1772, 1212, 'rpart', 24, SERIF, {align: 'left'});

const chart = echarts.init(document.getElementById('chart'), null, {renderer: 'canvas'});
chart.setOption({
  animation: false,
  backgroundColor: '#fff',
  textStyle: {fontFamily: SANS},
  grid: grids, xAxis: xAxes, yAxis: yAxes, series,
  graphic: {elements: G}
});
</script>
</body>
</html>
